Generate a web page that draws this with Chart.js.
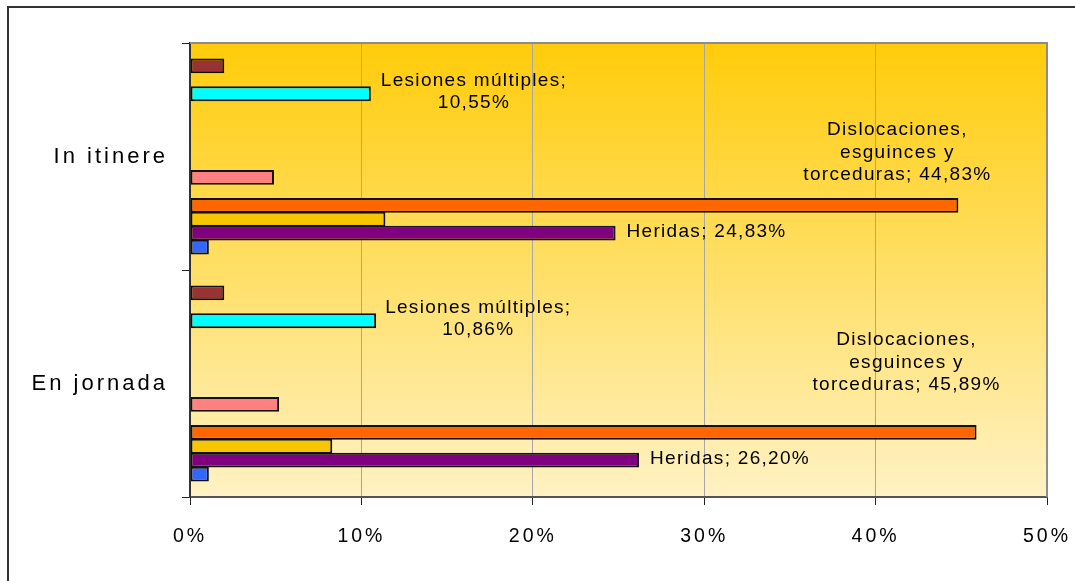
<!DOCTYPE html>
<html>
<head>
<meta charset="utf-8">
<script src="https://cdn.jsdelivr.net/npm/chart.js@4.4.1/dist/chart.umd.min.js"></script>
<style>
    html, body { margin: 0; padding: 0; background: #fff; }
    #wrap { position: relative; width: 1075px; height: 581px; overflow: hidden; }
    canvas { display: block; }
</style>
</head>
<body>
<div id="wrap"><canvas id="chart" width="1075" height="581"></canvas></div>
<script>
// Categories (top to bottom)
const categories = ['In itinere', 'En jornada'];

// Series values in %, one value per category
const otrasVals = [1.1, 1.1];
const heridasVals = [24.83, 26.20];
const fracturasVals = [11.4, 8.3];
const dislocVals = [44.83, 45.89];
const vacia5Vals = [null, null];
const quemadurasVals = [4.9, 5.2];
const vacia7Vals = [null, null];
const vacia8Vals = [null, null];
const vacia9Vals = [null, null];
const vacia10Vals = [null, null];
const vacia11Vals = [null, null];
const lesionesVals = [10.55, 10.86];
const vacia13Vals = [null, null];
const amputVals = [2.0, 2.0];

// X axis ticks
const xTickValues = [0, 10, 20, 30, 40, 50];

const FONT = '"Liberation Sans", Arial, sans-serif';

// Series in Excel order (bottom of the group first)
const series = [
    { name: 'Otras', data: otrasVals, color: '#3366FF' },
    { name: 'Heridas', data: heridasVals, color: '#800080' },
    { name: 'Fracturas', data: fracturasVals, color: '#F7C600' },
    { name: 'Dislocaciones, esguinces y torceduras', data: dislocVals, color: '#FF6600' },
    { name: 'Serie 5', data: vacia5Vals, color: '#999999' },
    { name: 'Quemaduras', data: quemadurasVals, color: '#FF8080' },
    { name: 'Serie 7', data: vacia7Vals, color: '#999999' },
    { name: 'Serie 8', data: vacia8Vals, color: '#999999' },
    { name: 'Serie 9', data: vacia9Vals, color: '#999999' },
    { name: 'Serie 10', data: vacia10Vals, color: '#999999' },
    { name: 'Serie 11', data: vacia11Vals, color: '#999999' },
    { name: 'Lesiones múltiples', data: lesionesVals, color: '#00FFFF' },
    { name: 'Serie 13', data: vacia13Vals, color: '#999999' },
    { name: 'Amputaciones', data: amputVals, color: '#993333' }
];

// Chart.js puts the first dataset at the top of each group
const datasets = series.slice().reverse().map(s => ({
    label: s.name,
    data: s.data,
    backgroundColor: s.color,
    borderColor: '#111',
    borderWidth: 2,
    borderSkipped: false,
    categoryPercentage: 0.86,
    barPercentage: 1.06
}));

function fmt(v) {
    return v.toFixed(2).replace('.', ',') + '%';
}

// Label layouts: how each visible data label is placed next to its bar
const labelSpecs = [
    { series: 'Heridas', lines: v => ['Heridas; ' + fmt(v)], mode: 'right', offs: [[11, -1], [11, -1]] },
    { series: 'Lesiones múltiples', lines: v => ['Lesiones múltiples;', fmt(v)], mode: 'rightBlock', offs: [[10, -2], [9, -2]] },
    { series: 'Dislocaciones, esguinces y torceduras', lines: v => ['Dislocaciones,', 'esguinces y', 'torceduras; ' + fmt(v)], mode: 'center', offs: [[-61, -53], [-70, -70]] }
];

const plotDecor = {
    id: 'plotDecor',
    beforeLayout(chart) {
        chart.ctx.letterSpacing = '3px';
    },
    beforeDraw(chart) {
        const ctx = chart.ctx;
        const a = chart.chartArea;
        ctx.letterSpacing = '3px';
        const g = ctx.createLinearGradient(0, a.top, 0, a.bottom);
        g.addColorStop(0, '#FFCC0A');
        g.addColorStop(1, '#FFF2C4');
        ctx.save();
        ctx.fillStyle = g;
        ctx.fillRect(a.left, a.top, a.right - a.left, a.bottom - a.top);
        ctx.restore();
    },
    beforeDatasetsDraw(chart) {
        const ctx = chart.ctx;
        const a = chart.chartArea;
        ctx.save();
        ctx.strokeStyle = '#8C8C8C';
        ctx.lineWidth = 2;
        ctx.beginPath();
        ctx.moveTo(a.left, a.top);
        ctx.lineTo(a.right, a.top);
        ctx.lineTo(a.right, a.bottom);
        ctx.stroke();
        ctx.restore();
    },
    afterDatasetsDraw(chart) {
        const ctx = chart.ctx;
        ctx.save();
        ctx.font = '19px ' + FONT;
        ctx.letterSpacing = '1.3px';
        ctx.fillStyle = '#000';
        ctx.textBaseline = 'middle';
        const lineH = 22.5;
        labelSpecs.forEach(spec => {
            const dsIndex = chart.data.datasets.findIndex(d => d.label === spec.series);
            const meta = chart.getDatasetMeta(dsIndex);
            meta.data.forEach((bar, i) => {
                const v = chart.data.datasets[dsIndex].data[i];
                if (v == null) return;
                const lines = spec.lines(v);
                const [dx, dy] = spec.offs[i];
                const n = lines.length;
                if (spec.mode === 'right') {
                    ctx.textAlign = 'left';
                    ctx.fillText(lines[0], bar.x + dx, bar.y + dy);
                    return;
                }
                let cx = bar.x + dx;
                if (spec.mode === 'rightBlock') {
                    const maxW = Math.max(...lines.map(t => ctx.measureText(t).width));
                    cx = bar.x + dx + maxW / 2;
                }
                ctx.textAlign = 'center';
                lines.forEach((t, k) => {
                    ctx.fillText(t, cx, bar.y + dy + (k - (n - 1) / 2) * lineH);
                });
            });
        });
        ctx.restore();
    },
    afterDraw(chart) {
        // outer frame of the chart object (cropped on the right and bottom)
        const ctx = chart.ctx;
        ctx.save();
        ctx.strokeStyle = '#333';
        ctx.lineWidth = 2;
        ctx.beginPath();
        ctx.moveTo(8, 590);
        ctx.lineTo(8, 7);
        ctx.lineTo(1080, 7);
        ctx.stroke();
        ctx.restore();
    }
};

const ctx = document.getElementById('chart').getContext('2d');
const chart = new Chart(ctx, {
    type: 'bar',
    data: {
        labels: categories,
        datasets: datasets
    },
    options: {
        indexAxis: 'y',
        responsive: false,
        devicePixelRatio: 1,
        animation: false,
        layout: {
            padding: { left: 0, top: 43, right: 28, bottom: 0 }
        },
        plugins: {
            legend: { display: false },
            tooltip: { enabled: false }
        },
        scales: {
            x: {
                type: 'linear',
                min: 0,
                max: 50,
                afterBuildTicks(scale) {
                    scale.ticks = xTickValues.map(v => ({ value: v }));
                },
                afterFit(scale) {
                    scale.height = 84;
                    scale.paddingLeft = 0;
                    scale.paddingRight = 0;
                },
                grid: {
                    color: '#A6A6A6',
                    lineWidth: 1,
                    tickColor: '#222',
                    tickLength: 8
                },
                border: { color: '#555', width: 2 },
                ticks: {
                    padding: 20,
                    color: '#000',
                    font: { family: FONT, size: 19.5 },
                    callback: v => v + '%'
                }
            },
            y: {
                type: 'category',
                offset: true,
                afterFit(scale) {
                    scale.width = 190;
                    scale.paddingTop = 0;
                    scale.paddingBottom = 0;
                },
                grid: {
                    offset: true,
                    drawOnChartArea: false,
                    color: '#222',
                    tickLength: 8
                },
                border: { color: '#333', width: 2 },
                ticks: {
                    padding: 14,
                    color: '#000',
                    font: { family: FONT, size: 22 }
                }
            }
        }
    },
    plugins: [plotDecor]
});
</script>
</body>
</html>
